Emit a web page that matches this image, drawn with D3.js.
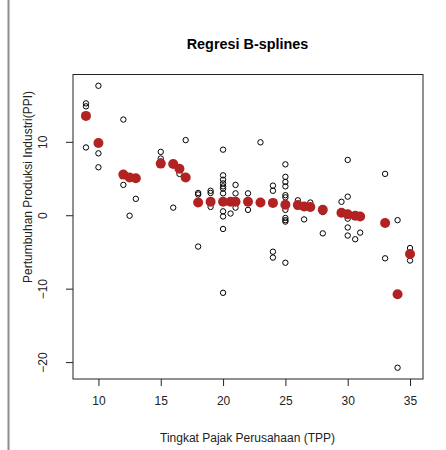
<!DOCTYPE html>
<html>
<head>
<meta charset="utf-8">
<script src="https://cdn.jsdelivr.net/npm/d3@7"></script>
<style>
  body { margin: 0; background: #fff; }
  svg { display: block; font-family: "Liberation Sans", Arial, sans-serif; }
</style>
</head>
<body>
<div id="chart"></div>
<script>
"use strict"

// observed points (tax rate, industrial production growth)
const obsX = [9, 9, 9, 10, 10, 10, 12, 12, 12.5, 13,
    15, 15, 15, 16, 16.5, 17, 18, 18, 18, 19, 19, 19,
    20, 20, 20, 20, 20, 20, 20, 20, 20, 20, 20, 20.6,
    21, 21, 21, 22, 22, 23, 23, 24, 24, 24, 24,
    25, 25, 25, 25, 25, 25, 25, 25, 25, 25, 25,
    26, 26.5, 27, 28, 28, 29.5, 30, 30, 30, 30, 30, 30.6, 31,
    33, 33, 34, 34, 35, 35];
const obsY = [15.3, 14.9, 9.3, 17.7, 8.5, 6.6, 13.1, 4.2, 0.0, 2.3,
    8.7, 7.8, 7.4, 1.1, 5.7, 10.3, 3.1, 2.9, -4.2, 3.4, 3.1, 1.2,
    9.0, 5.5, 4.9, 4.4, 4.0, 3.7, 3.05, 0.6, -0.1, -1.8, -10.5, 0.3,
    4.2, 3.05, 1.1, 3.05, 0.8, 10.0, 1.6, 4.1, 3.4, -4.9, -5.7,
    7.0, 5.3, 4.6, 4.0, 2.8, 2.5, 0.8, -0.3, -0.6, -0.8, -6.4,
    2.1, -0.5, 1.8, 0.5, -2.4, 1.9, 7.6, 2.6, -0.4, -1.6, -2.7, -3.2, -2.3,
    5.7, -5.8, -0.6, -20.7, -4.4, -6.1];

// fitted B-spline values
const fitX = [9, 10, 12, 12.5, 13, 15, 16, 16.5, 17, 18, 19, 20, 20.6, 21, 22,
    23, 24, 25, 26, 26.5, 27, 28, 29.5, 30, 30.6, 31, 33, 34, 35];
const fitY = [13.6, 9.9, 5.6, 5.2, 5.1, 7.1, 7.05, 6.4, 5.2, 1.8, 1.9, 1.9, 1.9, 1.9, 1.9,
    1.8, 1.75, 1.5, 1.45, 1.25, 1.2, 0.8, 0.4, 0.2, 0.0, -0.1, -1.0, -10.7, -5.2];

const xTicks = [10, 15, 20, 25, 30, 35];
const yTicks = [-20, -10, 0, 10];

const width = 446, height = 450;
const plot = {left: 73, right: 423, top: 74.5, bottom: 379};

// R style 4% padding around the data range
function padded(vals) {
    let ext = d3.extent(vals);
    let p = (ext[1] - ext[0]) * 0.04;
    return [ext[0] - p, ext[1] + p];
}

const x = d3.scaleLinear().domain(padded(obsX)).range([plot.left, plot.right]);
const y = d3.scaleLinear().domain(padded(obsY)).range([plot.bottom, plot.top]);

const svg = d3.select("#chart").append("svg")
    .attr("width", width)
    .attr("height", height);

// grey frame line at the left edge
svg.append("line")
    .attr("x1", 8.5).attr("x2", 8.5)
    .attr("y1", 0).attr("y2", height)
    .attr("stroke", "#8c8c8c")
    .attr("stroke-width", 2);

// title
svg.append("text")
    .attr("x", 247.5).attr("y", 49)
    .attr("text-anchor", "middle")
    .attr("font-weight", "bold")
    .attr("font-size", 14.4)
    .attr("fill", "#000")
    .text("Regresi B-splines");

// axes
const xAxis = svg.append("g")
    .attr("transform", `translate(0,${plot.bottom})`)
    .call(d3.axisBottom(x).tickValues(xTicks).tickSize(7).tickPadding(10));
xAxis.select(".domain").remove();

const yAxis = svg.append("g")
    .attr("transform", `translate(${plot.left},0)`)
    .call(d3.axisLeft(y).tickValues(yTicks).tickSize(7));
yAxis.select(".domain").remove();
yAxis.selectAll("text")
    .attr("x", 0).attr("dy", 0)
    .attr("text-anchor", "middle")
    .attr("transform", d => `translate(-26,${y(d)}) rotate(-90)`)
    .attr("y", 0);
yAxis.selectAll(".tick").attr("transform", null);
yAxis.selectAll(".tick line").attr("y1", d => y(d)).attr("y2", d => y(d));

svg.selectAll(".tick text").attr("font-size", 12).attr("fill", "#222")
    .attr("font-family", "'Liberation Sans', Arial, sans-serif");
svg.selectAll(".tick line").attr("stroke", "#222");

// box
svg.append("rect")
    .attr("x", plot.left).attr("y", plot.top)
    .attr("width", plot.right - plot.left)
    .attr("height", plot.bottom - plot.top)
    .attr("fill", "none")
    .attr("stroke", "#222");

// axis titles
svg.append("text")
    .attr("x", 247.5).attr("y", 442)
    .attr("text-anchor", "middle")
    .attr("font-size", 12)
    .attr("fill", "#222")
    .text("Tingkat Pajak Perusahaan (TPP)");

svg.append("text")
    .attr("transform", "translate(32,187) rotate(-90)")
    .attr("text-anchor", "middle")
    .attr("font-size", 12)
    .attr("fill", "#222")
    .text("Pertumbuhan Produksi Industri(PPI)");

// observed points
svg.append("g").selectAll("circle")
    .data(d3.range(obsX.length))
    .enter().append("circle")
        .attr("cx", i => x(obsX[i]))
        .attr("cy", i => y(obsY[i]))
        .attr("r", 2.7)
        .attr("fill", "none")
        .attr("stroke", "#000")
        .attr("stroke-width", 1);

// fitted values
svg.append("g").selectAll("circle")
    .data(d3.range(fitX.length))
    .enter().append("circle")
        .attr("cx", i => x(fitX[i]))
        .attr("cy", i => y(fitY[i]))
        .attr("r", 5)
        .attr("fill", "#b22222");
</script>
</body>
</html>
